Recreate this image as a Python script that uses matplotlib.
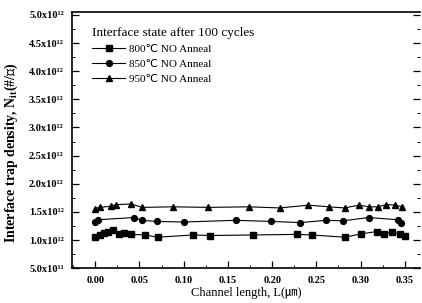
import numpy as np
import matplotlib
matplotlib.use('Agg')
import matplotlib.pyplot as plt
from matplotlib.ticker import MultipleLocator, FuncFormatter

plt.rcParams['font.family'] = ['Liberation Serif', 'DejaVu Sans', 'Noto Sans CJK KR']
plt.rcParams['mathtext.fontset'] = 'custom'
plt.rcParams['mathtext.rm'] = 'Liberation Serif:bold'
plt.rcParams['mathtext.it'] = 'Liberation Serif:bold'

# channel length (um) and trap density (x1e12 /cm2)
x_800 = [0.000, 0.005, 0.010, 0.015, 0.020, 0.027, 0.033, 0.041, 0.056, 0.071, 0.111,
         0.130, 0.178, 0.228, 0.245, 0.282, 0.301, 0.318, 0.327, 0.336, 0.344, 0.350]
y_800 = [1.06, 1.09, 1.12, 1.15, 1.17, 1.10, 1.12, 1.10, 1.09, 1.05, 1.09,
         1.08, 1.09, 1.10, 1.09, 1.05, 1.11, 1.15, 1.11, 1.14, 1.10, 1.08]

x_850 = [0.000, 0.003, 0.044, 0.053, 0.070, 0.100, 0.159, 0.199, 0.232, 0.261,
         0.280, 0.309, 0.342, 0.346]
y_850 = [1.32, 1.36, 1.40, 1.35, 1.33, 1.32, 1.35, 1.33, 1.31, 1.35,
         1.34, 1.40, 1.36, 1.31]

x_950 = [0.000, 0.005, 0.018, 0.024, 0.041, 0.053, 0.088, 0.128, 0.174, 0.209,
         0.241, 0.264, 0.282, 0.298, 0.310, 0.320, 0.329, 0.339, 0.347]
y_950 = [1.56, 1.58, 1.60, 1.63, 1.64, 1.58, 1.59, 1.58, 1.59, 1.57,
         1.62, 1.59, 1.57, 1.62, 1.59, 1.59, 1.63, 1.62, 1.59]

labels = ['800\u2103 NO Anneal', '850\u2103 NO Anneal', '950\u2103 NO Anneal']
markers = ['s', 'o', '^']
sup = {'1': '\u00b9', '2': '\u00b2'}

fig = plt.figure(figsize=(4.22, 3.03), dpi=100)
ax = fig.add_axes([0.171, 0.115, 0.824, 0.845])

series = [(x_800, y_800), (x_850, y_850), (x_950, y_950)]
for (xs, ys), lab, m in zip(series, labels, markers):
    ax.plot(xs, np.array(ys) * 1e12, color='black', lw=0.8, marker=m, ms=4.2,
            label=lab)

ax.set_xlim(-0.026, 0.367)
ax.set_ylim(5e11, 5.05e12)
ax.xaxis.set_major_locator(MultipleLocator(0.05))
ax.xaxis.set_minor_locator(MultipleLocator(0.025))
ax.yaxis.set_major_locator(MultipleLocator(5e11))
ax.yaxis.set_minor_locator(MultipleLocator(2.5e11))


def sci_fmt(v, pos):
    if v <= 0:
        return ''
    e = int(np.floor(np.log10(v) + 1e-9))
    return '%.1fx10%s' % (v / 10 ** e, ''.join(sup[c] for c in str(e)))


ax.yaxis.set_major_formatter(FuncFormatter(sci_fmt))
ax.xaxis.set_major_formatter(FuncFormatter(lambda v, p: '%.2f' % v))

ax.tick_params(which='both', direction='in', top=False, right=True, labelsize=7.5)
ax.tick_params(which='major', length=5, width=0.9, pad=6)
ax.tick_params(which='minor', length=2.5, width=0.7)
for lab in ax.get_xticklabels() + ax.get_yticklabels():
    lab.set_fontweight('bold')
ax.spines['right'].set_visible(False)
for s in ['left', 'bottom', 'top']:
    ax.spines[s].set_linewidth(1.2)

ax.set_xlabel('Channel length, L(\u339b)', fontsize=9, labelpad=1)
ax.set_ylabel('Interface trap density, N$_{it}$(#/\u33a0)', fontsize=10,
              fontweight='bold')
ax.yaxis.set_label_coords(-0.15, 0.45)

leg = ax.legend(loc='upper left', frameon=False, fontsize=8,
                title='Interface state after 100 cycles', title_fontsize=9.5,
                handlelength=3.0, handletextpad=0.3, borderaxespad=0,
                borderpad=0, labelspacing=0.45, bbox_to_anchor=(0.057, 0.94))
leg._legend_box.align = 'left'

fig.savefig('out.png', dpi=100)
